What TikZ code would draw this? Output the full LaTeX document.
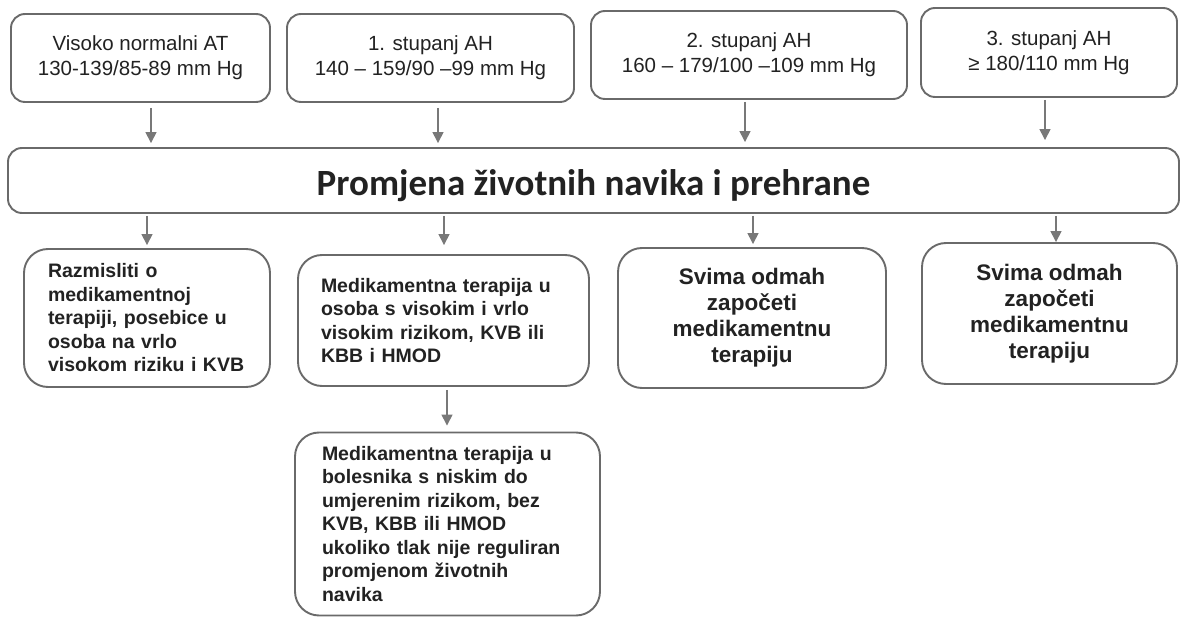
\documentclass[tikz,border=0pt]{standalone}
\usepackage{fontspec}
\setmainfont{Liberation Sans}
\newfontfamily\titlefont{Carlito}
\usetikzlibrary{arrows.meta}
\definecolor{bordc}{HTML}{6A6A6A}
\definecolor{arrc}{HTML}{787878}
\definecolor{txtc}{HTML}{222222}
\begin{document}
\begin{tikzpicture}[x=1pt,y=-1pt,
 box/.style={draw=bordc, line width=1.9pt, rounded corners=14pt, fill=white, inner sep=0pt, text=txtc},
 topbox/.style={box, font=\fontsize{20.5}{25}\selectfont, align=center},
 lowbox/.style={box, rounded corners=24pt, font=\bfseries\fontsize{19.5}{23.5}\selectfont, align=left},
 bigbox/.style={box, rounded corners=24pt, font=\bfseries\fontsize{22.5}{26}\selectfont, align=center},
 arr/.style={draw=arrc, line width=1.5pt, -{Triangle[width=11pt,length=11pt]}}]
\useasboundingbox (0,0) rectangle (1181,617);
% top row
\node[topbox, minimum width=259pt, minimum height=88pt] (t1) at (140.5,58) {Visoko normalni AT\\130-139/85-89 mm Hg};
\node[topbox, minimum width=287pt, minimum height=88pt] (t2) at (430.5,58) {1. stupanj AH\\140 – 159/90 –99 mm Hg};
\node[topbox, minimum width=316pt, minimum height=88pt] (t3) at (749,55) {2. stupanj AH\\160 – 179/100 –109 mm Hg};
\node[topbox, minimum width=256pt, minimum height=89pt] (t4) at (1049,52.5) {3. stupanj AH\\≥ 180/110 mm Hg};
% main
\node[box, minimum width=1171pt, minimum height=65pt, font=\titlefont\bfseries\fontsize{37}{40}\selectfont] (main) at (593.5,180.5) {\raisebox{-5pt}[\height][\depth]{Promjena životnih navika i prehrane}};
% lower row
\node[lowbox, text width=198pt, minimum width=246pt, minimum height=138pt] (b1) at (147,318) {Razmisliti o\\medikamentnoj\\terapiji, posebice u\\osoba na vrlo\\visokom riziku i KVB};
\node[lowbox, text width=245pt, minimum width=291pt, minimum height=131pt] (b2) at (443.5,320.5) {Medikamentna terapija u\\osoba s visokim i vrlo\\visokim rizikom, KVB ili\\KBB i HMOD};
\node[bigbox, minimum width=268pt, minimum height=140pt] (b3) at (752,318) {Svima odmah\\započeti\\medikamentnu\\terapiju};
\node[bigbox, minimum width=255pt, minimum height=141pt] (b4) at (1049.5,313.5) {Svima odmah\\započeti\\medikamentnu\\terapiju};
\node[lowbox, text width=251pt, minimum width=305pt, minimum height=183pt] (b5) at (447.5,524) {Medikamentna terapija u\\bolesnika s niskim do\\umjerenim rizikom, bez\\KVB, KBB ili HMOD\\ukoliko tlak nije reguliran\\promjenom životnih\\navika};
% arrow columns
\coordinate (c1) at (151,0);
\coordinate (c2) at (438,0);
\coordinate (c3) at (745,0);
\coordinate (c4) at (1045,0);
\coordinate (d1) at (147,0);
\coordinate (d2) at (444,0);
\coordinate (d3) at (753,0);
\coordinate (d4) at (1056,0);
\coordinate (e2) at (447,0);
\draw[arr, shorten <=5pt, shorten >=4pt] (t1.south -| c1) -- (main.north -| c1);
\draw[arr, shorten <=5pt, shorten >=4pt] (t2.south -| c2) -- (main.north -| c2);
\draw[arr, shorten <=2pt, shorten >=5pt] (t3.south -| c3) -- (main.north -| c3);
\draw[arr, shorten <=2pt, shorten >=7pt] (t4.south -| c4) -- (main.north -| c4);
\draw[arr, shorten <=2pt, shorten >=3pt] (main.south -| d1) -- (b1.north -| d1);
\draw[arr, shorten <=2pt, shorten >=9pt] (main.south -| d2) -- (b2.north -| d2);
\draw[arr, shorten <=2pt, shorten >=3pt] (main.south -| d3) -- (b3.north -| d3);
\draw[arr, shorten <=2pt, shorten >=0pt] (main.south -| d4) -- (b4.north -| d4);
\draw[arr, shorten <=3pt, shorten >=6pt] (b2.south -| e2) -- (b5.north -| e2);
\end{tikzpicture}
\end{document}
